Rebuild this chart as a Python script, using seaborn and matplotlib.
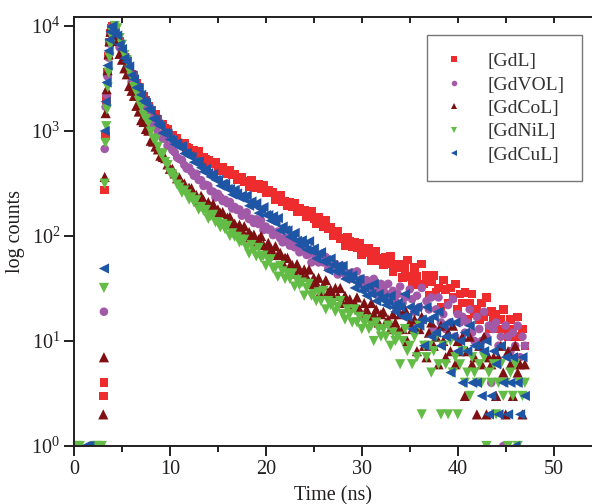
import numpy as np
import pandas as pd
import matplotlib
matplotlib.use("Agg")
import matplotlib.pyplot as plt
import seaborn as sns
from matplotlib.ticker import MultipleLocator, FixedLocator, NullLocator, LogFormatterMathtext

# ---------------- data ----------------
samples = ["[GdL]", "[GdVOL]", "[GdCoL]", "[GdNiL]", "[GdCuL]"]
colors = ["#EE2C2E", "#A25AA8", "#7E1012", "#63BC45", "#1E55A5"]
markers = ["s", "o", "^", "v", "<"]

# decay channels start at 4.0 ns, one value every 0.25 ns
decay_start = 4.0
decay_step = 0.25

gdl_decay = [9900, 8510, 7820, 7180, 5924, 5028, 4770, 4050, 3451, 3362, 2821, 2618, 2190, 2118, 1979, 1702,
             1590, 1405, 1429, 1299, 1171, 1155, 1053, 1038, 901, 912, 858, 851, 758, 768, 764, 694, 681, 627, 655, 601, 634, 540, 564, 532,
             530, 484, 491, 499, 448, 420, 448, 419, 394, 422, 380, 384, 345, 360, 363, 331, 333, 295, 336, 314,
             288, 308, 285, 305, 259, 275, 257, 263, 223, 236, 243, 212, 213, 195, 209, 190, 206, 170, 182, 172,
             175, 153, 162, 173, 145, 131, 150, 135, 122, 141, 117, 122, 101, 110, 112, 95, 96, 81, 98, 89,
             79, 87, 78, 86, 66, 76, 69, 76, 58, 66, 72, 58, 61, 53, 63, 54, 64, 46, 54, 50,
             54, 40, 49, 59, 41, 34, 50, 41, 34, 54, 35, 42, 27, 37, 42, 29, 32, 21, 38, 31,
             23, 32, 26, 35, 20, 28, 23, 29, 16, 23, 28, 18, 20, 16, 23, 17, 26, 13, 19, 16,
             18, 13, 16, 20, 13, 11, 16, 13, 11, 17, 11, 13, 9]
gdvol_decay = [9800, 8433, 7440, 6250, 5728, 4753, 3904, 3544, 2931, 2770, 2249, 2133, 1856, 1748, 1449, 1398,
               1307, 1138, 1072, 958, 936, 846, 844, 722, 716, 657, 626, 559, 540, 529, 474, 438, 448, 409, 375, 391, 342, 340, 300, 307,
               301, 268, 264, 233, 252, 234, 215, 221, 205, 211, 183, 189, 177, 179, 156, 162, 168, 145, 146, 133,
               144, 130, 141, 114, 123, 115, 115, 102, 106, 110, 95, 87, 96, 88, 81, 91, 78, 81, 70, 75,
               78, 66, 67, 56, 70, 63, 56, 62, 56, 63, 49, 55, 51, 54, 43, 48, 52, 43, 44, 39,
               45, 39, 46, 35, 39, 36, 38, 32, 35, 39, 31, 28, 35, 31, 28, 35, 28, 30, 24, 28,
               33, 23, 26, 17, 31, 25, 19, 27, 21, 32, 16, 24, 20, 26, 13, 20, 26, 15, 18, 13,
               22, 15, 25, 11, 18, 15, 17, 12, 15, 20, 12, 10, 17, 13, 10, 19, 11, 14, 4, 13,
               15, 9, 11, 1, 14, 11, 8, 12, 9, 14, 7, 11, 9]
gdcol_decay = [9900, 8213, 7204, 5426, 4775, 3953, 3467, 2682, 2415, 2160, 1736, 1531, 1269, 1219, 1045, 1007,
               808, 792, 711, 668, 582, 566, 551, 481, 436, 437, 394, 355, 358, 320, 316, 282, 288, 285, 249, 246, 214, 241, 221, 200,
               210, 192, 202, 169, 179, 166, 169, 141, 150, 152, 131, 131, 119, 128, 115, 124, 97, 109, 100, 103,
               88, 93, 100, 82, 74, 86, 77, 69, 80, 66, 69, 56, 62, 62, 52, 53, 44, 54, 48, 43,
               48, 41, 48, 35, 40, 36, 40, 30, 34, 38, 29, 31, 27, 32, 27, 32, 23, 27, 24, 25,
               21, 23, 26, 20, 18, 23, 20, 17, 23, 18, 20, 15, 18, 19, 15, 16, 13, 18, 15, 13,
               18, 13, 20, 10, 15, 13, 16, 8, 13, 17, 9, 7, 12, 15, 9, 11, 6, 14, 10, 7,
               12, 8, 14, 6, 10, 8, 11, 3, 8, 11, 6, 7, 2, 9, 6, 11, 2, 7, 6, 7,
               3, 7, 9, 5, 2, 8, 6, 3, 9, 5, 6, 2, 6]
gdnil_decay = [8630, 10000, 9500, 7664, 6607, 5291, 4715, 3750, 3250, 2620, 2323, 1936, 1689, 1413, 1297, 1191,
               983, 849, 819, 708, 614, 601, 507, 473, 399, 385, 360, 309, 289, 258, 271, 249, 222, 233, 209, 219, 178, 189, 174, 177,
               146, 155, 159, 135, 135, 121, 130, 116, 125, 100, 106, 98, 98, 87, 89, 92, 77, 68, 82, 72,
               64, 77, 62, 65, 52, 59, 60, 49, 50, 41, 52, 46, 39, 44, 39, 44, 33, 38, 34, 36,
               27, 32, 35, 27, 28, 24, 29, 24, 30, 20, 24, 22, 23, 19, 21, 24, 18, 16, 20, 18,
               15, 20, 15, 17, 13, 15, 16, 13, 14, 10, 15, 13, 11, 13, 11, 14, 9, 12, 10, 11,
               6, 10, 13, 8, 9, 6, 11, 7, 14, 2, 9, 7, 9, 5, 8, 11, 6, 2, 9, 6,
               2, 10, 5, 7, 2, 6, 8, 4, 5, 3, 7, 5, 4, 6, 4, 7, 1, 5, 4, 6,
               2, 4, 6, 3, 4, 1, 5, 3, 6, 1, 4, 3, 4]
gdcul_decay = [10000, 8520, 8110, 6653, 6032, 4932, 4581, 4111, 3396, 3101, 2588, 2559, 2210, 1923, 1849, 1620,
               1558, 1309, 1285, 1157, 1109, 958, 961, 943, 831, 813, 747, 765, 698, 715, 610, 619, 576, 567, 504, 507, 511, 447, 410, 435,
               398, 366, 391, 342, 342, 301, 315, 314, 280, 280, 248, 275, 254, 233, 243, 224, 243, 194, 213, 196,
               205, 165, 180, 188, 158, 158, 140, 154, 134, 148, 113, 123, 113, 113, 98, 102, 107, 90, 82, 91,
               83, 74, 89, 72, 76, 61, 68, 70, 57, 59, 47, 61, 53, 46, 52, 46, 52, 39, 44, 39,
               42, 32, 36, 39, 30, 32, 27, 33, 28, 35, 24, 28, 25, 26, 22, 24, 27, 21, 19, 23,
               21, 17, 28, 17, 21, 13, 19, 21, 14, 16, 9, 21, 16, 11, 17, 12, 19, 9, 14, 11,
               15, 5, 11, 15, 8, 10, 4, 12, 8, 14, 4, 9, 4, 9, 3, 8, 10, 2, 3, 8,
               6, 2, 9, 4, 7, 2, 4, 7, 1, 4, 2, 7, 3]

# rising edge (times in ns, counts)
gdl_rise_t = [3.05, 3.12, 3.2, 3.3, 3.4, 3.5, 3.6, 3.7, 3.8, 3.9]
gdl_rise = [3, 4, 275, 900, 2000, 3600, 5200, 7000, 8600, 9600]
gdvol_rise_t = [3.12, 3.2, 3.3, 3.4, 3.5, 3.6, 3.7, 3.8, 3.9]
gdvol_rise = [19, 675, 1700, 2200, 3300, 5000, 6800, 8500, 9700]
gdcol_rise_t = [3.05, 3.12, 3.2, 3.3, 3.4, 3.5, 3.6, 3.7, 3.8, 3.9]
gdcol_rise = [2, 7, 365, 1480, 2500, 3800, 5400, 7200, 8800, 9800]
gdnil_rise_t = [3.12, 3.2, 3.28, 3.36, 3.44, 3.52, 3.6, 3.7, 3.8, 3.9]
gdnil_rise = [32, 315, 770, 1110, 1600, 2600, 3600, 5000, 6600, 8000]
gdcul_rise_t = [3.12, 3.2, 3.3, 3.4, 3.5, 3.6, 3.7, 3.8, 3.9]
gdcul_rise = [49, 1000, 1900, 2900, 4200, 5800, 7400, 8800, 9800]

# pre-pulse baseline channels (1 count)
gdl_base_t = [1.9, 2.3]
gdvol_base_t = [2.1]
gdcol_base_t = [2.0, 2.6, 2.9]
gdnil_base_t = [0.3, 0.6, 2.2, 2.5, 2.9]
gdcul_base_t = [1.2, 1.4, 1.6]
base_count = 1

decays = [gdl_decay, gdvol_decay, gdcol_decay, gdnil_decay, gdcul_decay]
rise_ts = [gdl_rise_t, gdvol_rise_t, gdcol_rise_t, gdnil_rise_t, gdcul_rise_t]
rises = [gdl_rise, gdvol_rise, gdcol_rise, gdnil_rise, gdcul_rise]
bases = [gdl_base_t, gdvol_base_t, gdcol_base_t, gdnil_base_t, gdcul_base_t]

frames = []
for name, dec, rt, rv, bt in zip(samples, decays, rise_ts, rises, bases):
    dt = decay_start + decay_step * np.arange(len(dec))
    t = np.concatenate([np.array(bt, float), np.array(rt, float), dt])
    c = np.concatenate([np.full(len(bt), base_count, float), np.array(rv, float), np.array(dec, float)])
    frames.append(pd.DataFrame({"time": t, "counts": c, "sample": name}))
df = pd.concat(frames, ignore_index=True)

# ---------------- style ----------------
sns.set_style("ticks")
plt.rcParams["font.family"] = ["Liberation Serif", "DejaVu Serif"]
plt.rcParams["mathtext.fontset"] = "custom"
plt.rcParams["mathtext.rm"] = "Liberation Serif"
plt.rcParams["mathtext.it"] = "Liberation Serif:italic"
plt.rcParams["mathtext.bf"] = "Liberation Serif:bold"

fig = plt.figure(figsize=(5.92, 5.04), dpi=100)
ax = fig.add_axes([0.125, 0.1151, 0.875, 0.8512])

palette = dict(zip(samples, colors))
mk = dict(zip(samples, markers))
sizes = {"[GdL]": 38, "[GdVOL]": 38, "[GdCoL]": 54, "[GdNiL]": 54, "[GdCuL]": 54}

sns.scatterplot(data=df, x="time", y="counts", hue="sample", style="sample", size="sample",
                palette=palette, markers=mk, sizes=sizes, hue_order=samples, style_order=samples,
                size_order=samples, linewidth=0, edgecolor="none", alpha=1, ax=ax)

ax.set_yscale("log")
ax.set_xlim(0, 54)
ax.set_ylim(1, 12180)
ax.yaxis.set_major_locator(FixedLocator([1, 10, 100, 1000, 10000]))
ax.yaxis.set_minor_locator(NullLocator())
ax.yaxis.set_major_formatter(LogFormatterMathtext())
ax.xaxis.set_major_locator(MultipleLocator(10))
ax.xaxis.set_minor_locator(MultipleLocator(5))

spine_c = "#231F20"
for side in ["left", "bottom", "top"]:
    ax.spines[side].set_color(spine_c)
    ax.spines[side].set_linewidth(1.4)
ax.spines["right"].set_visible(False)

ax.tick_params(axis="x", which="both", bottom=True, top=False, direction="out", colors=spine_c,
               labelsize=14.5, labelcolor="#231F20", width=1.4)
ax.tick_params(axis="x", which="major", length=7, pad=3)
ax.tick_params(axis="x", which="minor", length=4)
ax.tick_params(axis="y", which="major", left=True, right=False, direction="out", length=7, width=1.4,
               colors=spine_c, labelsize=14.5, labelcolor="#231F20", pad=3)
# inward ticks along the top edge
sec = ax.secondary_xaxis("top")
sec.xaxis.set_major_locator(MultipleLocator(10))
sec.xaxis.set_minor_locator(MultipleLocator(5))
sec.tick_params(axis="x", which="both", direction="in", length=4, width=1.4, colors=spine_c, labeltop=False)
sec.spines["top"].set_visible(False)

ax.set_xlabel("Time (ns)", fontsize=14.5, color="#231F20", labelpad=5)
ax.set_ylabel("log counts", fontsize=14.5, color="#231F20", labelpad=4)

handles, labels = ax.get_legend_handles_labels()
hl = [(h, l) for h, l in zip(handles, labels) if l in samples]
leg = ax.legend([h for h, _ in hl], [l for _, l in hl], loc="upper right", bbox_to_anchor=(0.981, 0.958),
                borderaxespad=0, frameon=True, fancybox=False, fontsize=14, labelspacing=0.3,
                handlelength=1.0, handletextpad=1.2, borderpad=0.9, markerscale=0.65)
leg.get_frame().set_edgecolor("#555555")
leg.get_frame().set_linewidth(1.0)
for txt in leg.get_texts():
    txt.set_color("#333333")

fig.savefig("out.png", dpi=100)
